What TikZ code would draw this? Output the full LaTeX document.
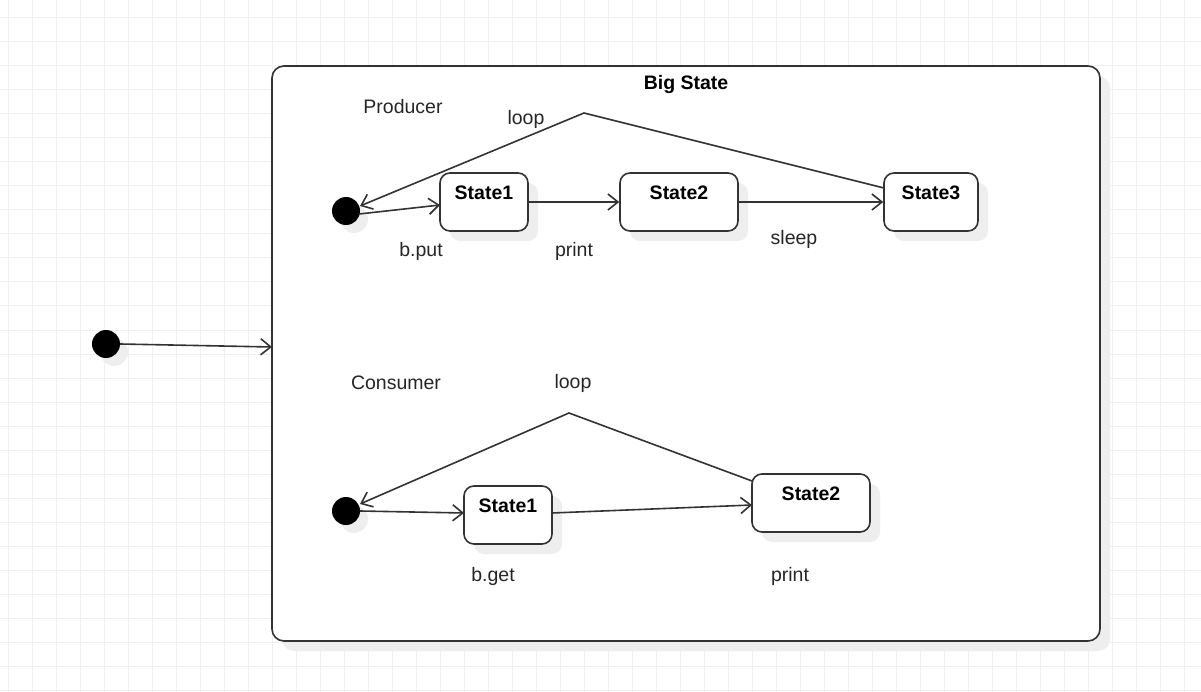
\documentclass[tikz,border=0pt]{standalone}
\usepackage{fontspec}
\setmainfont{Liberation Sans}
\usetikzlibrary{arrows.meta}
\definecolor{ln}{HTML}{333333}
\definecolor{shd}{HTML}{EEEEEE}
\definecolor{grd}{HTML}{F0F0F0}
\tikzset{
  st/.style={draw=ln,line width=1.6pt,rounded corners=10pt,fill=white},
  initdot/.style={circle,fill=black,inner sep=0pt,minimum size=28pt},
  dotshadow/.style={circle,fill=shd,inner sep=0pt,minimum size=28pt},
  lab/.style={font=\fontsize{19.5}{23}\selectfont,text=black!85,inner sep=0pt},
  blab/.style={font=\fontsize{19.5}{23}\selectfont\bfseries,text=black,inner sep=0pt},
  tr/.style={draw=ln,line width=1.6pt,-{Straight Barb[length=10pt,width=16pt,line width=1.6pt]}},
}
\begin{document}
\begin{tikzpicture}[x=1pt,y=-1pt]
\useasboundingbox (0,0) rectangle (1201,692);
\fill[white] (0,0) rectangle (1201,692);
% grid
\foreach \gx in {8,32,...,1200} \draw[grd,line width=1pt] (\gx,0) -- (\gx,692);
\foreach \gy in {18,42,...,690} \draw[grd,line width=1pt] (0,\gy) -- (1201,\gy);

% big state
\fill[shd,rounded corners=12pt] (282,76) rectangle (1110,651);
\draw[draw=ln,line width=1.6pt,rounded corners=12pt,fill=white] (272,66) rectangle (1100,641);
\node[blab] (bigt) at (686,85) {Big State};

% outer initial
\node[dotshadow] at (114,352) {};
\node[initdot] (i0) at (106,344) {};
\coordinate (bigl) at (272,347);
\draw[tr] (i0.east) -- (bigl);

% producer
\node[lab] (prod) at (403,107) {Producer};
\node[dotshadow] at (354,219) {};
\node[initdot] (pi) at (346,211) {};
\fill[shd,rounded corners=10pt] (450,183) rectangle (538,241);
\fill[shd,rounded corners=10pt] (630,183) rectangle (748,241);
\fill[shd,rounded corners=10pt] (894,183) rectangle (988,241);
\node[st,minimum width=88pt,minimum height=58pt] (ps1) at (484,202) {};
\node[st,minimum width=118pt,minimum height=58pt] (ps2) at (679,202) {};
\node[st,minimum width=94pt,minimum height=58pt] (ps3) at (931,202) {};
\node[blab] at (484,193) {State1};
\node[blab] at (679,193) {State2};
\node[blab] at (931,193) {State3};
\coordinate (p1in) at (440,205);
\draw[tr] ([xshift=-1pt,yshift=-3pt]pi.east) -- (p1in);
\draw[tr] (ps1.east) -- (ps2.west);
\draw[tr] (ps2.east) -- (ps3.west);
\coordinate (pap) at (584,113);
\coordinate (p3l) at (884,188);
\coordinate (pdot) at (360,206);
\draw[tr] (p3l) -- (pap) -- (pdot);
\node[lab] at (526,119) {loop};
\node[lab] at (421,251) {b.put};
\node[lab] at (574,251) {print};
\node[lab] at (794,239) {sleep};

% consumer
\node[lab] (cons) at (396,383) {Consumer};
\node[lab] at (573,383) {loop};
\node[dotshadow] at (354,519) {};
\node[initdot] (ci) at (346,511) {};
\fill[shd,rounded corners=10pt] (474,496) rectangle (562,554);
\fill[shd,rounded corners=10pt] (762,484) rectangle (880,542);
\node[st,minimum width=88pt,minimum height=58pt] (cs1) at (508,515) {};
\node[st,minimum width=118pt,minimum height=58pt] (cs2) at (811,503) {};
\node[blab] at (508,506) {State1};
\node[blab] at (811,494) {State2};
\coordinate (c1in) at (464,513);
\coordinate (c2in) at (752,505);
\coordinate (c1out) at (552,513);
\draw[tr] (ci.east) -- (c1in);
\draw[tr] (c1out) -- (c2in);
\coordinate (cap) at (569,413);
\coordinate (c2l) at (752,481);
\coordinate (cdot) at (360,504);
\draw[tr] (c2l) -- (cap) -- (cdot);
\node[lab] at (493,576) {b.get};
\node[lab] at (790,576) {print};
\end{tikzpicture}
\end{document}
